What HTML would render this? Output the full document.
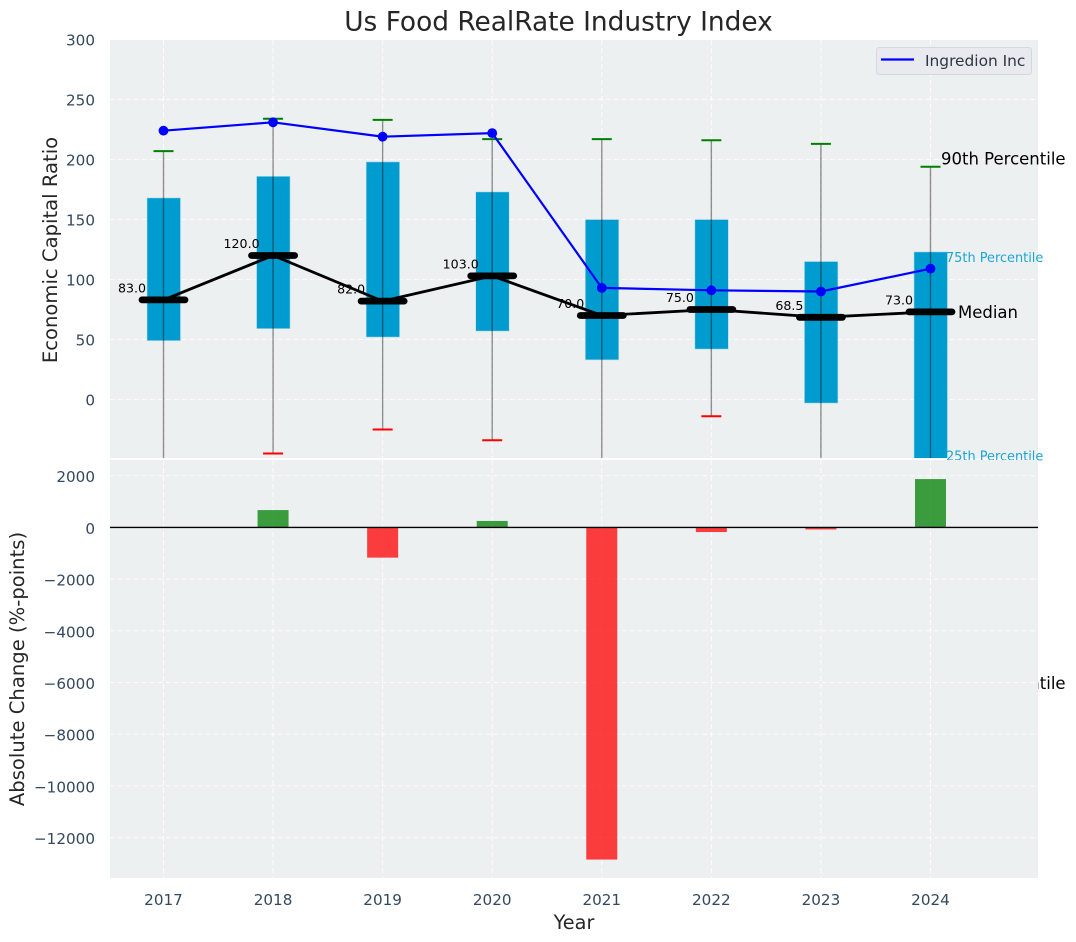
<!DOCTYPE html>
<html lang="en">
<head>
<meta charset="utf-8">
<title>Us Food RealRate Industry Index</title>
<style>
html,body{margin:0;padding:0;background:#fff;width:1076px;height:942px;overflow:hidden}
svg{display:block}
text{font-family:"DejaVu Sans","Liberation Sans",sans-serif}
</style>
</head>
<body>
<svg id="chart" xmlns="http://www.w3.org/2000/svg" width="1076" height="942" viewBox="0 0 1076 942">
  <defs>
    <clipPath id="top-clip"><rect x="110" y="40" width="928" height="418"></rect></clipPath>
    <clipPath id="bottom-clip"><rect x="110" y="460" width="928" height="418"></rect></clipPath>
  </defs>
  <rect x="110" y="40" width="928" height="418" fill="#ecf0f1"></rect>
  <g id="top-grid"></g>
  <g id="top-marks" clip-path="url(#top-clip)"></g>
  <g id="pct-labels"></g>
  <rect x="110" y="460" width="928" height="418" fill="#ecf0f1"></rect>
  <g id="bottom-grid"></g>
  <g id="bottom-marks" clip-path="url(#bottom-clip)"></g>
  <g id="axis-text"></g>
  <text x="558.5" y="30.5" font-size="26.4" text-anchor="middle" fill="#262626">Us Food RealRate Industry Index</text>
  <text x="574" y="929" font-size="19.3" text-anchor="middle" fill="#262626">Year</text>
  <text transform="translate(57,250) rotate(-90)" font-size="19.6" text-anchor="middle" fill="#262626">Economic Capital Ratio</text>
  <text transform="translate(24,669) rotate(-90)" font-size="19.6" text-anchor="middle" fill="#262626">Absolute Change (%-points)</text>
  <g>
    <rect x="876.5" y="47.5" width="155" height="27" rx="3" fill="#e9eaef" stroke="#d5d7db"></rect>
    <line x1="881" y1="59.5" x2="914" y2="59.5" stroke="#0000ff" stroke-width="2.2"></line>
    <text x="925" y="66" font-size="15.4" fill="#2f3640">Ingredion Inc</text>
  </g>
</svg>
<script>
var years = [2017, 2018, 2019, 2020, 2021, 2022, 2023, 2024];
var p90 = [207, 234, 233, 217, 217, 216, 213, 194];
var q3 = [168, 186, 198, 173, 150, 150, 115, 123];
var medians = [83, 120, 82, 103, 70, 75, 68.5, 73];
var medianLabels = ['83.0', '120.0', '82.0', '103.0', '70.0', '75.0', '68.5', '73.0'];
var q1 = [49, 59, 52, 57, 33, 42, -3, -55];
var p10 = [-80, -45, -25, -34, -90, -14, -75, -243];
var ingredion = [224, 231, 219, 222, 93, 91, 90, 109];
var changes = [0, 670, -1170, 250, -12850, -180, -80, 1870];
var topTicks = [0, 50, 100, 150, 200, 250, 300];
var bottomTicks = [2000, 0, -2000, -4000, -6000, -8000, -10000, -12000];

var NS = 'http://www.w3.org/2000/svg';
function xPos(year) { return 163.5 + (year - 2017) * 109.57; }
function yTop(v) { return 399.5 - v * 1.2; }
function yBottom(v) { return 527.4 - v * 0.02585; }
function mk(parent, tag, attrs, txt) {
  var el = document.createElementNS(NS, tag);
  for (var k in attrs) { el.setAttribute(k, attrs[k]); }
  if (txt !== undefined) { el.textContent = txt; }
  parent.appendChild(el);
  return el;
}
function fmt(v) { return v < 0 ? '\u2212' + Math.abs(v) : String(v); }

var topGrid = document.getElementById('top-grid');
var topMarks = document.getElementById('top-marks');
var bottomGrid = document.getElementById('bottom-grid');
var bottomMarks = document.getElementById('bottom-marks');
var axisText = document.getElementById('axis-text');
var pctLabels = document.getElementById('pct-labels');
var gridStyle = { stroke: '#ffffff', 'stroke-width': 1, 'stroke-dasharray': '5 3', opacity: 0.85 };
function gridLine(parent, x1, y1, x2, y2) {
  var a = { x1: x1, y1: y1, x2: x2, y2: y2 };
  for (var k in gridStyle) { a[k] = gridStyle[k]; }
  return mk(parent, 'line', a);
}

topTicks.forEach(function (t) {
  var g = gridLine(topGrid, 110, yTop(t), 1038, yTop(t));
  
  
  var l = mk(axisText, 'text', { x: 95, y: yTop(t) + 6, 'font-size': 15.2, 'text-anchor': 'end', fill: '#34495e' }, fmt(t));
  
  
});
bottomTicks.forEach(function (t) {
  var g = gridLine(bottomGrid, 110, yBottom(t), 1038, yBottom(t));
  
  
  var l = mk(axisText, 'text', { x: 95, y: yBottom(t) + 6.5, 'font-size': 15.2, 'text-anchor': 'end', fill: '#34495e' }, fmt(t));
  
  
});

years.forEach(function (yr, i) {
  var x = xPos(yr);
  var g1 = gridLine(topGrid, x, 40, x, 458);
  
  
  var g2 = gridLine(bottomGrid, x, 460, x, 878);
  
  
  var tl = mk(axisText, 'text', { x: x, y: 905, 'font-size': 15.2, 'text-anchor': 'middle', fill: '#34495e' }, String(yr));
  
  

  var box = mk(topMarks, 'rect', { x: x - 16.5, y: yTop(q3[i]), width: 33.5, height: yTop(q1[i]) - yTop(q3[i]), fill: '#009ccf', stroke: '#b9dfe9', 'stroke-width': 0.6 });
  
  

  var whisker = mk(topMarks, 'line', { x1: x, y1: yTop(p90[i]), x2: x, y2: yTop(p10[i]), stroke: '#000000', 'stroke-opacity': 0.42, 'stroke-width': 1.4 });
  
  

  var capTop = mk(topMarks, 'line', { x1: x - 10, y1: yTop(p90[i]), x2: x + 10, y2: yTop(p90[i]), stroke: '#008000', 'stroke-width': 2 });
  
  

  var capBottom = mk(topMarks, 'line', { x1: x - 10, y1: yTop(p10[i]), x2: x + 10, y2: yTop(p10[i]), stroke: '#ff0000', 'stroke-width': 2 });
  
  
});

var medianPath = years.map(function (yr, i) { return (i ? 'L' : 'M') + xPos(yr) + ' ' + yTop(medians[i]); }).join(' ');
var medianLine = mk(topMarks, 'path', { d: medianPath, fill: 'none', stroke: '#000000', 'stroke-width': 2.8 });



var bluePath = years.map(function (yr, i) { return (i ? 'L' : 'M') + xPos(yr) + ' ' + yTop(ingredion[i]); }).join(' ');
var blueLine = mk(topMarks, 'path', { d: bluePath, fill: 'none', stroke: '#0000ff', 'stroke-width': 2.2 });



years.forEach(function (yr, i) {
  var x = xPos(yr);
  var m = mk(topMarks, 'line', { x1: x - 21.5, y1: yTop(medians[i]), x2: x + 21.5, y2: yTop(medians[i]), stroke: '#000000', 'stroke-width': 6.8, 'stroke-linecap': 'round' });
  
  

  var pt = mk(topMarks, 'circle', { cx: x, cy: yTop(ingredion[i]), r: 4.9, fill: '#0000ff' });
  
  

  var ml = mk(topMarks, 'text', { x: x - 31.5, y: yTop(medians[i]) - 7.5, 'font-size': 12.6, 'text-anchor': 'middle', fill: '#000000' }, medianLabels[i]);
  
  

  var h = changes[i];
  if (h !== 0) {
    var bar = mk(bottomMarks, 'rect', {
      x: x - 15.5,
      y: Math.min(yBottom(h), yBottom(0)),
      width: 31,
      height: Math.abs(yBottom(h) - yBottom(0)),
      fill: h > 0 ? '#008000' : '#ff0000',
      'fill-opacity': 0.75
    });
    
    
  }
});

var zero = mk(bottomMarks, 'line', { x1: 110, y1: yBottom(0), x2: 1038, y2: yBottom(0), stroke: '#000000', 'stroke-width': 1.4 });



var last = years.length - 1;
var lastX = xPos(years[last]);
var l90 = mk(pctLabels, 'text', { x: lastX + 10.5, y: yTop(p90[last]) - 2, 'font-size': 16.5, fill: '#000000' }, '90th Percentile');


var l75 = mk(pctLabels, 'text', { x: lastX + 15.5, y: yTop(q3[last]) + 10, 'font-size': 12.9, fill: '#1fa5d3' }, '75th Percentile');


var lMed = mk(pctLabels, 'text', { x: lastX + 27.5, y: yTop(medians[last]) + 6, 'font-size': 16.5, fill: '#000000' }, 'Median');


var l25 = mk(pctLabels, 'text', { x: lastX + 15.5, y: yTop(q1[last]) - 5, 'font-size': 12.9, fill: '#1fa5d3' }, '25th Percentile');


var l10 = mk(pctLabels, 'text', { x: lastX + 10.5, y: yTop(p10[last]) - 2, 'font-size': 16.5, fill: '#000000' }, '10th Percentile');


</script>
</body>
</html>
